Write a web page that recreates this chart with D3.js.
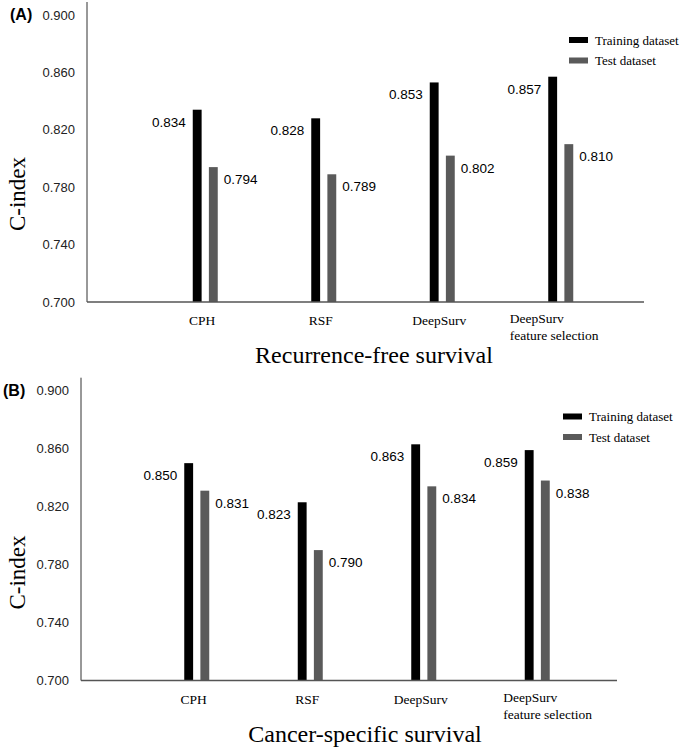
<!DOCTYPE html>
<html>
<head>
<meta charset="utf-8">
<script src="https://cdn.jsdelivr.net/npm/d3@7"></script>
<style>
  body { margin: 0; background: #fff; }
</style>
</head>
<body>
<div id="chart"></div>
<script>
// models (x categories), one entry per line of the label
const models = ["CPH", "RSF", "DeepSurv", "DeepSurv feature selection"]
const modelLines = [["CPH"], ["RSF"], ["DeepSurv"], ["DeepSurv", "feature selection"]]
const seriesNames = ["Training dataset", "Test dataset"]
const seriesColors = ["#000000", "#5a5a5a"]

// C-index values
const rfsTrain = [0.834, 0.828, 0.853, 0.857]
const rfsTest = [0.794, 0.789, 0.802, 0.810]
const cssTrain = [0.850, 0.823, 0.863, 0.859]
const cssTest = [0.831, 0.790, 0.834, 0.838]

const yTicks = [0.700, 0.740, 0.780, 0.820, 0.860, 0.900]

const svg = d3.select("#chart").append("svg")
    .attr("width", 685)
    .attr("height", 750)

const serif = "'Liberation Serif', 'Times New Roman', serif"
const sans = "'Liberation Sans', Arial, sans-serif"

function drawPanel(p)
{
    let y = d3.scaleLinear().domain([0.7, 0.9]).range([p.base, p.top])
    let x0 = d3.scaleBand().domain(models).range([p.xStart, p.xEnd])
    let x1 = d3.scaleBand().domain([0, 1]).range([-12.5, 12.5]).paddingInner(0.45)
    let g = svg.append("g")

    // panel tag
    g.append("text")
        .attr("x", p.tagX)
        .attr("y", y(0.9))
        .attr("dy", "0.32em")
        .text(p.tag)
        .style("font-family", sans)
        .style("font-weight", "bold")
        .style("font-size", "16px")

    // y axis : no ticks, just labels and a line
    let yAxis = g.append("g")
        .attr("transform", "translate(" + p.axisX + ",0)")
        .call(d3.axisLeft(y).tickValues(yTicks).tickSize(0).tickPadding(12).tickFormat(d3.format(".3f")))
    yAxis.select(".domain").remove()
    yAxis.selectAll("text")
        .style("font-family", sans)
        .style("font-size", "13px")
        .attr("fill", "#222")

    g.append("line")
        .attr("x1", p.axisX).attr("x2", p.axisX)
        .attr("y1", y(0.9) - 13).attr("y2", p.base)
        .attr("stroke", "#333")
        .attr("stroke-width", 1)

    g.append("text")
        .attr("transform", "translate(25," + (p.base - 108) + ") rotate(-90)")
        .attr("text-anchor", "middle")
        .text("C-index")
        .style("font-family", serif)
        .style("font-size", "23px")

    // bars
    let rows = models.map((m, i) => ({ model: m, vals: [p.train[i], p.test[i]] }))
    let groups = g.selectAll(".grp")
        .data(rows)
        .enter()
        .append("g")
        .attr("transform", d => "translate(" + (x0(d.model) + x0.bandwidth() / 2) + ",0)")

    groups.selectAll("rect")
        .data(d => d.vals.map((v, k) => ({ k: k, v: v })))
        .enter()
        .append("rect")
        .attr("x", d => x1(d.k))
        .attr("y", d => y(d.v))
        .attr("width", x1.bandwidth())
        .attr("height", d => p.base - y(d.v))
        .attr("fill", d => seriesColors[d.k])

    groups.selectAll(".val")
        .data(d => d.vals.map((v, k) => ({ k: k, v: v })))
        .enter()
        .append("text")
        .attr("x", d => d.k == 0 ? x1(0) - 7 : x1(1) + x1.bandwidth() + 6)
        .attr("y", d => y(d.v) + 17)
        .attr("text-anchor", d => d.k == 0 ? "end" : "start")
        .text(d => d.v.toFixed(3))
        .style("font-family", sans)
        .style("font-size", "13.5px")

    // x axis line
    g.append("line")
        .attr("x1", p.axisX).attr("x2", p.axisEnd)
        .attr("y1", p.base).attr("y2", p.base)
        .attr("stroke", "#555")
        .attr("stroke-width", 1.5)

    // category labels
    models.forEach((m, i) => {
        let cx = x0(m) + x0.bandwidth() / 2
        let lines = modelLines[i]
        let t = g.append("text")
            .style("font-family", serif)
            .style("font-size", "13.5px")
        if (lines.length == 1) {
            t.attr("x", cx - 3).attr("y", p.base + 23).attr("text-anchor", "middle").text(lines[0])
        } else {
            lines.forEach((l, j) => {
                t.append("tspan")
                    .attr("x", cx + p.multiOffset)
                    .attr("y", p.base + 21 + j * 17)
                    .text(l)
            })
        }
    })

    g.append("text")
        .attr("x", p.titleX)
        .attr("y", p.base + 61)
        .attr("text-anchor", "middle")
        .text(p.title)
        .style("font-family", serif)
        .style("font-size", "24px")

    // legend
    seriesNames.forEach((s, k) => {
        g.append("rect")
            .attr("x", p.legendX)
            .attr("y", p.legendY + k * 20.5)
            .attr("width", 19)
            .attr("height", 6)
            .attr("fill", seriesColors[k])
        g.append("text")
            .attr("x", p.legendX + 26)
            .attr("y", p.legendY + 7.5 + k * 20.5)
            .text(s)
            .style("font-family", serif)
            .style("font-size", "13px")
    })
}

drawPanel({
    tag: "(A)", title: "Recurrence-free survival", train: rfsTrain, test: rfsTest,
    axisX: 87, base: 302, top: 15, xStart: 146, xEnd: 620, axisEnd: 644,
    tagX: 10, titleX: 374, legendX: 569, legendY: 37, multiOffset: -51
})

drawPanel({
    tag: "(B)", title: "Cancer-specific survival", train: cssTrain, test: cssTest,
    axisX: 81, base: 680.5, top: 390.7, xStart: 140, xEnd: 594, axisEnd: 617,
    tagX: 3, titleX: 365, legendX: 563, legendY: 413.5, multiOffset: -34
})
</script>
</body>
</html>
